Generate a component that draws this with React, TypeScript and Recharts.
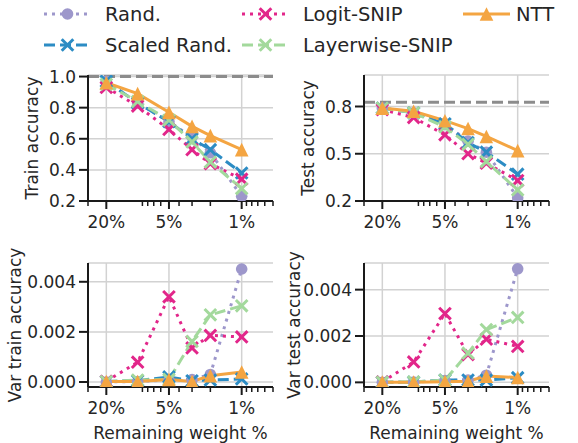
import React from 'react';
import { LineChart, Line, XAxis, YAxis, CartesianGrid, ReferenceLine } from 'recharts';

// ---------- data ----------
const remaining = [20, 10, 5, 3, 2, 1];
const majorTicks = [20, 5, 1];
const xTickLabels = ['20%', '5%', '1%'];
const minorTicks = [30, 9, 8, 7, 6, 4, 3, 2, 0.9, 0.8, 0.7, 0.6, 0.5];

const seriesNames = ['Rand.', 'Scaled Rand.', 'Logit-SNIP', 'Layerwise-SNIP', 'NTT'];

const trainRand = [0.97, 0.83, 0.71, 0.61, 0.51, 0.23];
const trainScaled = [0.97, 0.83, 0.71, 0.6, 0.53, 0.38];
const trainLogit = [0.93, 0.81, 0.66, 0.53, 0.44, 0.34];
const trainLayer = [0.95, 0.84, 0.72, 0.58, 0.45, 0.28];
const trainNTT = [0.96, 0.89, 0.77, 0.68, 0.62, 0.53];

const testRand = [0.79, 0.76, 0.69, 0.58, 0.51, 0.22];
const testScaled = [0.79, 0.76, 0.69, 0.57, 0.51, 0.37];
const testLogit = [0.78, 0.73, 0.62, 0.5, 0.44, 0.33];
const testLayer = [0.79, 0.76, 0.67, 0.56, 0.45, 0.27];
const testNTT = [0.79, 0.77, 0.71, 0.66, 0.61, 0.52];

const varTrainRand = [0.0, 0.00002, 0.00008, 0.0001, 0.0003, 0.00451];
const varTrainScaled = [0.00002, 0.00005, 0.0002, 0.00005, 0.00008, 0.00012];
const varTrainLogit = [0.00003, 0.00079, 0.0034, 0.00136, 0.00186, 0.0018];
const varTrainLayer = [0.00002, 0.00008, 0.0001, 0.00162, 0.00268, 0.00304];
const varTrainNTT = [0.00002, 0.00002, 0.0001, 0.00002, 0.00025, 0.0004];

const varTestRand = [0.0, 0.00001, 0.00008, 0.0001, 0.00031, 0.0049];
const varTestScaled = [0.00001, 0.00001, 0.0001, 0.0001, 0.0001, 0.0002];
const varTestLogit = [0.00002, 0.00088, 0.00297, 0.0012, 0.00186, 0.00155];
const varTestLayer = [0.00001, 0.00002, 0.0001, 0.00126, 0.00228, 0.0028];
const varTestNTT = [0.00001, 0.00001, 0.00003, 0.00005, 0.00027, 0.00021];

const accTicksTrain = [0.2, 0.4, 0.6, 0.8, 1.0];
const accTicksTest = [0.2, 0.5, 0.8];
const varTicks = [0, 0.002, 0.004];

// ---------- styles ----------
const FONT = '"DejaVu Sans", sans-serif';
const TEXT = '#262626';
const AXIS = '#1a1a1a';
const keys = ['rand', 'scaled', 'logit', 'layer', 'ntt'];
const colors = ['#9d97cb', '#2c8cc4', '#e2268a', '#a3d99c', '#f4a542'];
const dashes: (string | undefined)[] = ['3 5', '11 5', '3 5', '11 5', undefined];
const markers = ['circle', 'x', 'x', 'x', 'tri'];

const Y_AXIS_W = 80;
const X_AXIS_H = 30;

function Marker({ cx, cy, kind, color }: any) {
  if (cx == null || cy == null || isNaN(cx) || isNaN(cy)) return null;
  if (kind === 'circle') return <circle cx={cx} cy={cy} r={5.8} fill={color} />;
  if (kind === 'x') {
    const s = 5.8;
    return (
      <path
        d={`M${cx - s},${cy - s}L${cx + s},${cy + s}M${cx - s},${cy + s}L${cx + s},${cy - s}`}
        stroke={color}
        strokeWidth={3}
        fill="none"
      />
    );
  }
  const h = 6.8;
  return <path d={`M${cx},${cy - h}L${cx + h},${cy + h}L${cx - h},${cy + h}Z`} fill={color} />;
}

function XTick(props: any) {
  const { x, y, payload } = props;
  const v = payload.value;
  const idx = majorTicks.indexOf(v);
  const major = idx >= 0;
  return (
    <g>
      <line x1={x} x2={x} y1={y} y2={y + (major ? 8 : 5)} stroke={AXIS} strokeWidth={major ? 2 : 1.5} />
      {major && (
        <text x={x} y={y + 27} textAnchor="middle" fontSize={17} fill={TEXT} fontFamily={FONT}>
          {xTickLabels[idx]}
        </text>
      )}
    </g>
  );
}

type Box = { left: number; right: number; top: number; bottom: number };

function Panel(props: {
  box: Box;
  values: number[][];
  yDomain: [number, number];
  yTicks: number[];
  yDigits: number;
  yLabel: string;
  yLabelOffset: number;
  xLabel?: string;
  refY?: number;
}) {
  const { box, values, yDomain, yTicks, yDigits, yLabel, yLabelOffset, xLabel, refY } = props;
  const data = remaining.map((x, i) => {
    const row: any = { x };
    keys.forEach((k, j) => (row[k] = values[j][i]));
    return row;
  });
  return (
    <div style={{ position: 'absolute', left: 0, top: 0 }}>
      <LineChart
        width={578}
        height={443}
        data={data}
        margin={{
          top: box.top,
          left: box.left - Y_AXIS_W,
          right: 578 - box.right,
          bottom: 443 - box.bottom - X_AXIS_H,
        }}
      >
        <CartesianGrid stroke="#d2d2d2" strokeWidth={1.5} verticalValues={majorTicks} />
        <XAxis
          dataKey="x"
          type="number"
          scale="log"
          domain={[0.5, 30]}
          allowDataOverflow
          reversed
          ticks={[...majorTicks, ...minorTicks]}
          interval={0}
          tick={<XTick />}
          tickLine={false}
          tickSize={0}
          tickMargin={0}
          height={X_AXIS_H}
          axisLine={{ stroke: AXIS, strokeWidth: 2 }}
          label={
            xLabel
              ? {
                  value: xLabel,
                  position: 'bottom',
                  offset: 40 - X_AXIS_H,
                  fill: TEXT,
                  fontSize: 17,
                  fontFamily: FONT,
                }
              : undefined
          }
        />
        <YAxis
          type="number"
          domain={yDomain}
          allowDataOverflow
          ticks={yTicks}
          interval={0}
          width={Y_AXIS_W}
          tickSize={9}
          tickMargin={3}
          tickFormatter={(v: number) => v.toFixed(yDigits)}
          tick={{ fontSize: 17, fill: TEXT, fontFamily: FONT }}
          tickLine={{ stroke: AXIS, strokeWidth: 2 }}
          axisLine={{ stroke: AXIS, strokeWidth: 2 }}
          label={{
            value: yLabel,
            angle: -90,
            position: 'insideLeft',
            offset: Y_AXIS_W - yLabelOffset,
            fill: TEXT,
            fontSize: 17,
            fontFamily: FONT,
            style: { textAnchor: 'middle' },
          }}
        />
        {refY != null && (
          <ReferenceLine y={refY} stroke="#8c8c8c" strokeWidth={3} strokeDasharray="11 5" />
        )}
        {keys.map((k, j) => (
          <Line
            key={k}
            type="linear"
            dataKey={k}
            name={seriesNames[j]}
            stroke={colors[j]}
            strokeWidth={3}
            strokeDasharray={dashes[j]}
            isAnimationActive={false}
            activeDot={false}
            dot={(p: any) => (
              <Marker key={`${k}-${p.index}`} cx={p.cx} cy={p.cy} kind={markers[j]} color={colors[j]} />
            )}
          />
        ))}
      </LineChart>
    </div>
  );
}

function LegendBlock() {
  const cols = [
    { x1: 44, x2: 91, tx: 105 },
    { x1: 242, x2: 289, tx: 303 },
    { x1: 463, x2: 510, tx: 516 },
  ];
  const rows = [14, 45];
  const place = [
    [0, 0],
    [0, 1],
    [1, 0],
    [1, 1],
    [2, 0],
  ];
  return (
    <svg width={578} height={62} style={{ position: 'absolute', left: 0, top: 0 }}>
      {seriesNames.map((name, j) => {
        const c = cols[place[j][0]];
        const y = rows[place[j][1]];
        const mx = (c.x1 + c.x2) / 2;
        return (
          <g key={name}>
            <line x1={c.x1} x2={c.x2} y1={y} y2={y} stroke={colors[j]} strokeWidth={3} strokeDasharray={dashes[j]} />
            <Marker cx={mx} cy={y} kind={markers[j]} color={colors[j]} />
            <text x={c.tx} y={y + 7} fontSize={19.5} fill={TEXT} fontFamily={FONT}>
              {name}
            </text>
          </g>
        );
      })}
    </svg>
  );
}

export default function App() {
  return (
    <div
      style={{
        position: 'absolute',
        left: 0,
        top: 0,
        width: 578,
        height: 443,
        background: '#fff',
        fontFamily: FONT,
        overflow: 'hidden',
      }}
    >
      <Panel
        box={{ left: 88, right: 273, top: 75, bottom: 201 }}
        values={[trainRand, trainScaled, trainLogit, trainLayer, trainNTT]}
        yDomain={[0.2, 1.01]}
        yTicks={accTicksTrain}
        yDigits={1}
        yLabel="Train accuracy"
        yLabelOffset={56}
        refY={1.0}
      />
      <Panel
        box={{ left: 364, right: 549, top: 75, bottom: 201 }}
        values={[testRand, testScaled, testLogit, testLayer, testNTT]}
        yDomain={[0.2, 1.0]}
        yTicks={accTicksTest}
        yDigits={1}
        yLabel="Test accuracy"
        yLabelOffset={56}
        refY={0.827}
      />
      <Panel
        box={{ left: 88, right: 273, top: 263, bottom: 387 }}
        values={[varTrainRand, varTrainScaled, varTrainLogit, varTrainLayer, varTrainNTT]}
        yDomain={[-0.0002, 0.00475]}
        yTicks={varTicks}
        yDigits={3}
        yLabel="Var train accuracy"
        yLabelOffset={73}
        xLabel="Remaining weight %"
      />
      <Panel
        box={{ left: 364, right: 549, top: 263, bottom: 387 }}
        values={[varTestRand, varTestScaled, varTestLogit, varTestLayer, varTestNTT]}
        yDomain={[-0.0002, 0.00515]}
        yTicks={varTicks}
        yDigits={3}
        yLabel="Var test accuracy"
        yLabelOffset={70}
        xLabel="Remaining weight %"
      />
      <LegendBlock />
    </div>
  );
}
